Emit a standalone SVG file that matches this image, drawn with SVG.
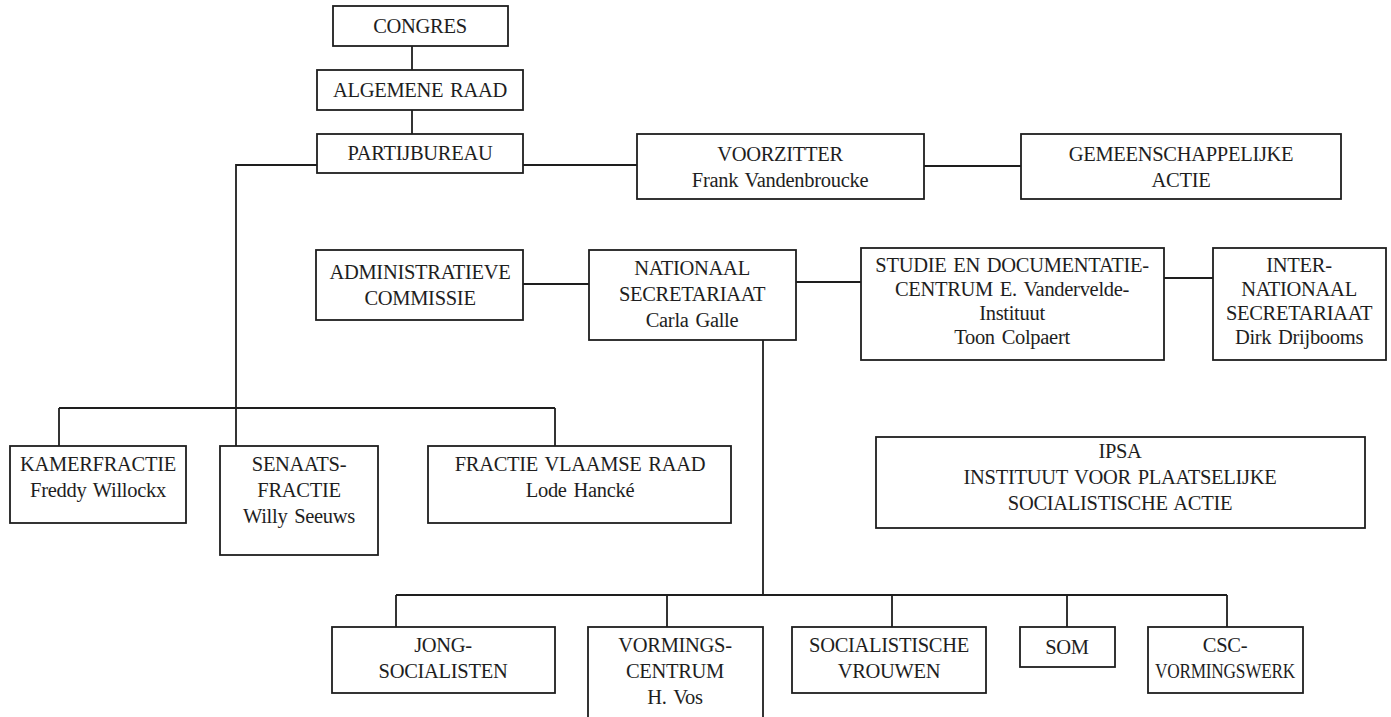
<svg xmlns="http://www.w3.org/2000/svg" width="1391" height="717" viewBox="0 0 1391 717">
<style>
rect.b{fill:#fff;stroke:#1e1e1e;stroke-width:1.8}
.c line,.c polyline{stroke:#1e1e1e;stroke-width:1.8;fill:none}
text{font-family:"Liberation Serif",serif;font-size:20.5px;fill:#1e1e1e;text-anchor:middle;dominant-baseline:central;word-spacing:2px;letter-spacing:-0.3px}
</style>
<rect width="1391" height="717" fill="#fff"/>
<g class="c" id="connectors">
<line x1="412" y1="46" x2="412" y2="70"/>
<line x1="412" y1="110" x2="412" y2="134"/>
<line x1="523" y1="165" x2="637" y2="165"/>
<line x1="924" y1="166" x2="1021" y2="166"/>
<polyline points="317,165 236,165 236,408"/>
<line x1="59" y1="408" x2="555" y2="408"/>
<line x1="59" y1="408" x2="59" y2="446"/>
<line x1="236" y1="408" x2="236" y2="446"/>
<line x1="555" y1="408" x2="555" y2="446"/>
<line x1="523" y1="284" x2="589" y2="284"/>
<line x1="796" y1="282" x2="861" y2="282"/>
<line x1="1164" y1="278" x2="1213" y2="278"/>
<line x1="763" y1="340" x2="763" y2="595"/>
<line x1="396" y1="595" x2="1227" y2="595"/>
<line x1="396" y1="595" x2="396" y2="627"/>
<line x1="667" y1="595" x2="667" y2="627"/>
<line x1="892" y1="595" x2="892" y2="627"/>
<line x1="1067" y1="595" x2="1067" y2="627"/>
<line x1="1227" y1="595" x2="1227" y2="627"/>
</g>
<g id="congres"><rect class="b" x="333" y="6" width="175" height="40"/><text x="420" y="26">CONGRES</text></g>
<g id="algemene-raad"><rect class="b" x="317" y="70" width="206" height="40"/><text x="420" y="90">ALGEMENE RAAD</text></g>
<g id="partijbureau"><rect class="b" x="317" y="134" width="206" height="39"/><text x="420" y="153">PARTIJBUREAU</text></g>
<g id="voorzitter"><rect class="b" x="637" y="134" width="287" height="65"/><text x="780" y="154">VOORZITTER</text><text x="780" y="180">Frank Vandenbroucke</text></g>
<g id="gemeenschappelijke-actie"><rect class="b" x="1021" y="134" width="320" height="65"/><text x="1181" y="154">GEMEENSCHAPPELIJKE</text><text x="1181" y="180">ACTIE</text></g>
<g id="administratieve-commissie"><rect class="b" x="316" y="250" width="207" height="70"/><text x="420" y="272">ADMINISTRATIEVE</text><text x="420" y="298">COMMISSIE</text></g>
<g id="nationaal-secretariaat"><rect class="b" x="589" y="250" width="207" height="90"/><text x="692" y="268">NATIONAAL</text><text x="692" y="294">SECRETARIAAT</text><text x="692" y="320">Carla Galle</text></g>
<g id="studie-centrum"><rect class="b" x="861" y="248" width="303" height="112"/><text x="1012" y="265">STUDIE EN DOCUMENTATIE-</text><text x="1012" y="289">CENTRUM E. Vandervelde-</text><text x="1012" y="313">Instituut</text><text x="1012" y="337">Toon Colpaert</text></g>
<g id="internationaal-secretariaat"><rect class="b" x="1213" y="248" width="173" height="112"/><text x="1299" y="265">INTER-</text><text x="1299" y="289">NATIONAAL</text><text x="1299" y="313">SECRETARIAAT</text><text x="1299" y="337">Dirk Drijbooms</text></g>
<g id="kamerfractie"><rect class="b" x="10" y="446" width="176" height="77"/><text x="98" y="464">KAMERFRACTIE</text><text x="98" y="490">Freddy Willockx</text></g>
<g id="senaatsfractie"><rect class="b" x="220" y="446" width="158" height="109"/><text x="299" y="464">SENAATS-</text><text x="299" y="490">FRACTIE</text><text x="299" y="516">Willy Seeuws</text></g>
<g id="fractie-vlaamse-raad"><rect class="b" x="428" y="446" width="303" height="77"/><text x="580" y="464">FRACTIE VLAAMSE RAAD</text><text x="580" y="490">Lode Hancké</text></g>
<g id="ipsa"><rect class="b" x="876" y="437" width="489" height="91"/><text x="1120" y="451">IPSA</text><text x="1120" y="477">INSTITUUT VOOR PLAATSELIJKE</text><text x="1120" y="503">SOCIALISTISCHE ACTIE</text></g>
<g id="jong-socialisten"><rect class="b" x="332" y="627" width="223" height="66"/><text x="443" y="645">JONG-</text><text x="443" y="671">SOCIALISTEN</text></g>
<g id="vormingscentrum"><rect class="b" x="588" y="627" width="175" height="100"/><text x="675" y="645">VORMINGS-</text><text x="675" y="671">CENTRUM</text><text x="675" y="697">H. Vos</text></g>
<g id="socialistische-vrouwen"><rect class="b" x="792" y="627" width="194" height="66"/><text x="889" y="645">SOCIALISTISCHE</text><text x="889" y="671">VROUWEN</text></g>
<g id="som"><rect class="b" x="1020" y="627" width="95" height="40"/><text x="1067" y="647">SOM</text></g>
<g id="csc-vormingswerk"><rect class="b" x="1148" y="627" width="155" height="66"/><text x="1225" y="645">CSC-</text><text x="1225" y="671" textLength="140" lengthAdjust="spacingAndGlyphs">VORMINGSWERK</text></g>
</svg>
